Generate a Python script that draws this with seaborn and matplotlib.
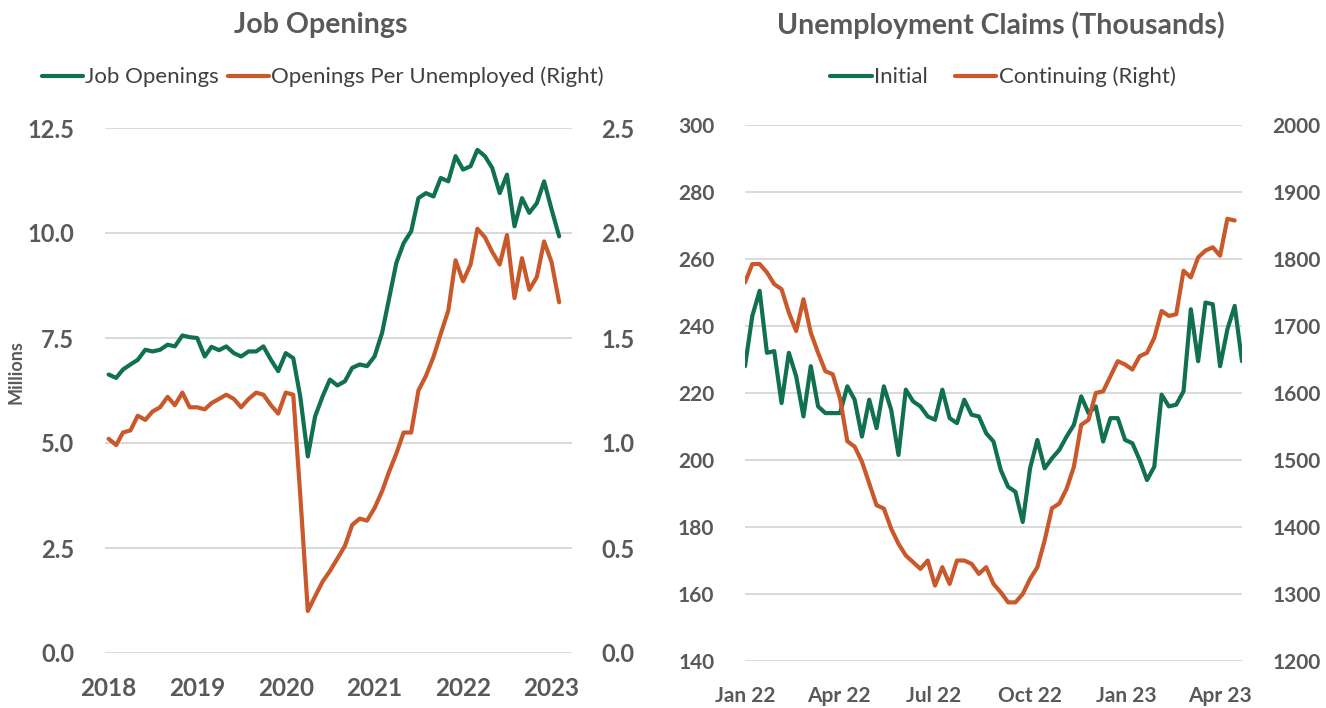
import matplotlib
matplotlib.use("Agg")
import matplotlib.pyplot as plt
import matplotlib.dates as mdates
from matplotlib.lines import Line2D
from matplotlib.ticker import FixedLocator, FormatStrFormatter
import seaborn as sns
import pandas as pd

# ---------------- data ----------------
job_months = pd.date_range("2018-01-01", periods=62, freq="MS")
job_openings = [
    6.63, 6.55, 6.75, 6.87, 6.98, 7.22, 7.18, 7.22, 7.34, 7.30,
    7.56, 7.52, 7.50, 7.06, 7.29, 7.21, 7.30, 7.14, 7.06, 7.18,
    7.18, 7.30, 6.98, 6.71, 7.14, 7.02, 6.10, 4.68, 5.63, 6.11,
    6.51, 6.37, 6.47, 6.79, 6.87, 6.83, 7.06, 7.62, 8.41, 9.29,
    9.76, 10.04, 10.83, 10.95, 10.87, 11.31, 11.23, 11.83, 11.51, 11.59,
    11.98, 11.83, 11.55, 10.95, 11.39, 10.16, 10.83, 10.48, 10.71, 11.23,
    10.56, 9.92,
]
openings_per_unemployed = [
    1.02, 0.99, 1.05, 1.06, 1.13, 1.11, 1.15, 1.17, 1.22, 1.18,
    1.24, 1.17, 1.17, 1.16, 1.19, 1.21, 1.23, 1.21, 1.17, 1.21,
    1.24, 1.23, 1.18, 1.14, 1.24, 1.23, 0.75, 0.20, 0.27, 0.34,
    0.39, 0.45, 0.51, 0.61, 0.64, 0.63, 0.69, 0.77, 0.86, 0.95,
    1.05, 1.05, 1.25, 1.32, 1.41, 1.52, 1.63, 1.87, 1.77, 1.85,
    2.02, 1.98, 1.91, 1.85, 1.99, 1.69, 1.88, 1.73, 1.79, 1.96,
    1.86, 1.67,
]

initial_weeks = pd.date_range("2022-01-01", periods=69, freq="7D")
initial_claims = [
    228, 243, 250.5, 232, 232.5, 217, 232, 225, 213, 228,
    216, 214, 214, 214, 222, 218, 207, 218, 209.5, 222,
    215, 201.5, 221, 217.5, 216, 213, 212, 221, 212.5, 211,
    218, 213.5, 213, 208, 205.5, 197, 192, 190.5, 181.5, 197.5,
    206, 197.5, 200.5, 203, 207, 210.5, 219, 214, 216, 205.5,
    212.5, 212.5, 206, 205, 200, 194, 198, 219.5, 216, 216.5,
    220.5, 245, 229.5, 247, 246.5, 228, 239, 246, 229.5,
]
continuing_weeks = pd.date_range("2022-01-01", periods=68, freq="7D")
continuing_claims = [
    1765, 1792.5, 1792.5, 1780, 1762.5, 1755, 1720, 1692.5, 1740, 1690,
    1660, 1632.5, 1628, 1592, 1528, 1520, 1497.5, 1465, 1432.5, 1427.5,
    1397.5, 1375, 1357.5, 1347.5, 1337.5, 1350, 1312.5, 1340, 1315, 1350,
    1350, 1345, 1330, 1340, 1315, 1302.5, 1287.5, 1287.5, 1300, 1322.5,
    1340, 1380, 1428, 1435, 1457, 1490, 1552.5, 1560, 1600, 1602.5,
    1625, 1647.5, 1642.5, 1635, 1655, 1660, 1682.5, 1722.5, 1715, 1717.5,
    1782.5, 1772.5, 1802.5, 1812.5, 1817.5, 1805, 1860, 1857.5,
]

left_yticks = [0.0, 2.5, 5.0, 7.5, 10.0, 12.5]
left_y2ticks = [0.0, 0.5, 1.0, 1.5, 2.0, 2.5]
year_ticks = ["2018", "2019", "2020", "2021", "2022", "2023"]
right_yticks = [140, 160, 180, 200, 220, 240, 260, 280, 300]
right_y2ticks = [1200, 1300, 1400, 1500, 1600, 1700, 1800, 1900, 2000]
quarter_ticks = ["2022-01-01", "2022-04-01", "2022-07-01", "2022-10-01", "2023-01-01", "2023-04-01"]

# ---------------- style ----------------
GREEN = "#10704F"
ORANGE = "#C9582A"
GRID = "#D9D9D9"
TEXT = "#595959"
LW = 3.0

sns.set_theme(style="white")
plt.rcParams["font.family"] = ["Lato", "DejaVu Sans"]

W, H = 1326, 708
fig = plt.figure(figsize=(W / 100, H / 100), dpi=100)
fig.patch.set_facecolor("white")


def px_axes(x0, y_top, x1, y_bottom):
    return fig.add_axes([x0 / W, 1 - y_bottom / H, (x1 - x0) / W, (y_bottom - y_top) / H])


def clean(ax):
    for s in ax.spines.values():
        s.set_visible(False)
    ax.tick_params(length=0)
    ax.set_xlabel("")
    ax.set_ylabel("")


# ---------------- left panel: job openings ----------------
jo = pd.DataFrame({"date": job_months, "openings": job_openings, "ratio": openings_per_unemployed})

axL = px_axes(105, 128, 572, 653)
axL2 = axL.twinx()
sns.lineplot(data=jo, x="date", y="openings", ax=axL, color=GREEN, linewidth=LW, zorder=3)
sns.lineplot(data=jo, x="date", y="ratio", ax=axL2, color=ORANGE, linewidth=LW, zorder=3)

axL.set_ylim(0, 12.5)
axL2.set_ylim(0, 2.5)
axL.yaxis.set_major_locator(FixedLocator(left_yticks))
axL2.yaxis.set_major_locator(FixedLocator(left_y2ticks))
axL.yaxis.set_major_formatter(FormatStrFormatter("%.1f"))
axL2.yaxis.set_major_formatter(FormatStrFormatter("%.1f"))
axL.set_xlim(pd.Timestamp("2017-12-17"), pd.Timestamp("2023-03-26"))
axL.set_xticks([pd.Timestamp(f"{y}-01-01") for y in year_ticks])
axL.set_xticklabels(year_ticks)
axL.grid(axis="y", color=GRID, linewidth=1.4)
axL.set_axisbelow(True)
for a in (axL, axL2):
    clean(a)
axL.tick_params(axis="y", pad=22, labelsize=17, labelcolor=TEXT)
axL2.tick_params(axis="y", pad=21, labelsize=17, labelcolor=TEXT)
axL.tick_params(axis="x", pad=17, labelsize=17.5, labelcolor=TEXT)
for lbl in axL.get_yticklabels() + axL2.get_yticklabels() + axL.get_xticklabels():
    lbl.set_fontweight("bold")
axL.set_ylabel("Millions", fontsize=13, color=TEXT, fontweight="bold")
axL.yaxis.set_label_coords(-0.172, 0.535)

fig.text(321 / W, 1 - 25 / H, "Job Openings", ha="center", va="center",
         fontsize=20.5, fontweight="bold", color=TEXT)
fig.legend(
    handles=[Line2D([], [], color=GREEN, lw=LW), Line2D([], [], color=ORANGE, lw=LW)],
    labels=["Job Openings", "Openings Per Unemployed (Right)"],
    loc="center", bbox_to_anchor=(323 / W, 1 - 77 / H), ncol=2, frameon=False,
    fontsize=16, handlelength=1.85, handletextpad=0.1, columnspacing=0.4,
    labelcolor="#404040",
)

# ---------------- right panel: unemployment claims ----------------
ini = pd.DataFrame({"date": initial_weeks, "claims": initial_claims})
con = pd.DataFrame({"date": continuing_weeks, "claims": continuing_claims})

axR = px_axes(745, 125, 1242, 661)
axR2 = axR.twinx()
sns.lineplot(data=ini, x="date", y="claims", ax=axR, color=GREEN, linewidth=LW, zorder=3)
sns.lineplot(data=con, x="date", y="claims", ax=axR2, color=ORANGE, linewidth=LW, zorder=3)

axR.set_ylim(140, 300)
axR2.set_ylim(1200, 2000)
axR.yaxis.set_major_locator(FixedLocator(right_yticks))
axR2.yaxis.set_major_locator(FixedLocator(right_y2ticks))
axR.set_xlim(initial_weeks[0], initial_weeks[-1])
axR.set_xticks([pd.Timestamp(d) for d in quarter_ticks])
axR.xaxis.set_major_formatter(mdates.DateFormatter("%b %y"))
axR.grid(axis="y", color=GRID, linewidth=1.4)
axR.set_axisbelow(True)
for a in (axR, axR2):
    clean(a)
axR.tick_params(axis="y", pad=22, labelsize=15, labelcolor=TEXT)
axR2.tick_params(axis="y", pad=22, labelsize=15, labelcolor=TEXT)
axR.tick_params(axis="x", pad=18, labelsize=15, labelcolor=TEXT)
for lbl in axR.get_yticklabels() + axR2.get_yticklabels() + axR.get_xticklabels():
    lbl.set_fontweight("bold")

fig.text(1001 / W, 1 - 25 / H, "Unemployment Claims (Thousands)", ha="center", va="center",
         fontsize=20.5, fontweight="bold", color=TEXT)
fig.legend(
    handles=[Line2D([], [], color=GREEN, lw=LW), Line2D([], [], color=ORANGE, lw=LW)],
    labels=["Initial", "Continuing (Right)"],
    loc="center", bbox_to_anchor=(1003 / W, 1 - 77 / H), ncol=2, frameon=False,
    fontsize=16, handlelength=1.85, handletextpad=0.1, columnspacing=1.25,
    labelcolor="#404040",
)

fig.savefig("out.png", dpi=100, facecolor="white")
